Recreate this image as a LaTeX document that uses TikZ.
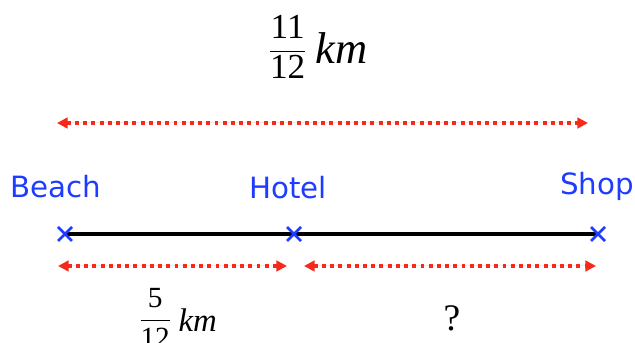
\documentclass[tikz,border=0pt]{standalone}
\usepackage{amsmath}
\usepackage{fontspec}
\usepackage{xcolor}
\usetikzlibrary{arrows.meta,positioning}
\setmainfont{Liberation Serif}
\newfontfamily\placefont{DejaVu Sans}
\definecolor{placeBlue}{HTML}{1E3CFF}
\definecolor{gapRed}{HTML}{F52A1A}
\tikzset{
  placeLabel/.style={font=\placefont\fontsize{25}{28}\selectfont, text=placeBlue, inner sep=0pt},
  placeCross/.style={draw=placeBlue, line width=2.4pt},
  roadLine/.style={draw=black, line width=2.8pt},
  gapArrow/.style={{Triangle[length=9pt,width=9pt]}-{Triangle[length=9pt,width=9pt]},
    draw=gapRed, fill=gapRed, line width=3.2pt, dash pattern=on 3.4pt off 3.6pt},
  distNote/.style={inner sep=0pt}
}
% fraction, then km in a size of its own
\newcommand{\kmfrac}[3]{$\dfrac{\text{#1}}{\text{#2}}$\hspace{0.25em}%
  \raisebox{-0.15em}{\fontsize{#3}{#3}\selectfont\itshape km}}
\begin{document}
\begin{tikzpicture}[x=0.03cm, y=-0.03cm]
    \useasboundingbox (0,0) rectangle (635,343);

    % points on the road
    \coordinate (beach) at (65,234);
    \coordinate (hotel) at (294,234);
    \coordinate (shop) at (598,234);

    \draw[roadLine] (beach) -- (shop);
    \foreach \p in {beach,hotel,shop}
      \draw[placeCross] ([shift={(-7,-7)}]\p) -- ([shift={(7,7)}]\p)
                        ([shift={(-7,7)}]\p) -- ([shift={(7,-7)}]\p);

    \node[placeLabel] (beachLbl) at (56,187) {Beach};
    \node[placeLabel] (hotelLbl) at (288,188) {Hotel};
    \node[placeLabel] (shopLbl) at (597,186) {Shop};

    % distance arrows
    \coordinate (totL) at (57,123);
    \coordinate (totR) at (588,123);
    \coordinate (leftL) at (58,266);
    \coordinate (leftR) at (287,266);
    \coordinate (rightL) at (304,266);
    \coordinate (rightR) at (596,266);
    \draw[gapArrow] (totL) -- (totR);
    \draw[gapArrow] (leftL) -- (leftR);
    \draw[gapArrow] (rightL) -- (rightR);

    \node[distNote, font=\fontsize{30}{36}\selectfont] (total) at (318,47)
      {\kmfrac{11}{12}{38}};
    \node[distNote, font=\fontsize{25}{30}\selectfont] (part) at (178,318)
      {\kmfrac{5}{12}{28}};
    \node[distNote, font=\fontsize{32}{38}\selectfont] (unknown) at (452,318) {?};
\end{tikzpicture}
\end{document}
